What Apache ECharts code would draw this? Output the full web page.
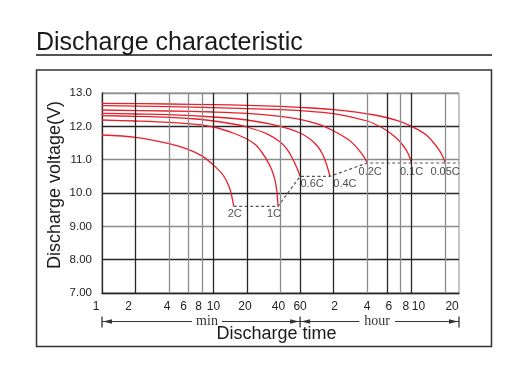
<!DOCTYPE html>
<html><head><meta charset="utf-8">
<script src="https://cdn.jsdelivr.net/npm/echarts@6/dist/echarts.min.js"></script>
<style>html,body{margin:0;padding:0;background:#fff}#c{width:516px;height:375px}</style>
</head><body><div id="c"></div>
<script>
// ---- data (time in minutes, voltage in V) ----
const rateNames = ['2C','1C','0.6C','0.4C','0.2C','0.1C','0.05C'];
const curve2C = [[1,11.74],[2,11.67],[4,11.48],[6,11.3],[8,11.1],[10,10.84],[12.2,10.54],[14,10.14],[15,9.72],[15.2,9.6]];
const curve1C = [[1,12.19],[2,12.16],[4,12.12],[7,12.06],[10,11.98],[15,11.8],[20,11.62],[24,11.44],[27.5,11.2],[31,10.92],[33.5,10.68],[35.6,10.4],[37.1,10.05],[38,9.6]];
const curve06C = [[1,12.32],[2,12.3],[4,12.27],[7,12.22],[10,12.16],[15,12.07],[20,11.98],[30,11.78],[40,11.52],[46,11.3],[51,11.05],[55,10.82],[58,10.64],[60,10.5]];
const curve04C = [[1,12.39],[2,12.37],[4,12.35],[10,12.28],[20,12.19],[40,12.0],[60,11.8],[75,11.6],[87,11.38],[96,11.15],[102,10.92],[107,10.7],[111,10.5]];
const curve02C = [[1,12.49],[4,12.46],[10,12.43],[20,12.39],[40,12.3],[60,12.21],[90,12.05],[120,11.86],[160,11.62],[186,11.43],[210,11.22],[229,11.04],[240,10.9]];
const curve01C = [[1,12.62],[4,12.59],[10,12.56],[20,12.53],[40,12.5],[60,12.47],[120,12.38],[240,12.16],[330,11.95],[420,11.7],[500,11.44],[560,11.18],[600,10.9]];
const curve005C = [[1,12.69],[4,12.67],[10,12.65],[20,12.63],[40,12.6],[60,12.57],[120,12.5],[280,12.34],[450,12.17],[600,12.0],[800,11.76],[950,11.5],[1080,11.25],[1160,11.05],[1200,10.9]];
const endTimes = [15.2,38,60,111,240,600,1200];
const endVolts = [9.6,9.6,10.5,10.5,10.9,10.9,10.9];
const cutoffLine = [[15.2,9.6],[38,9.6],[60,10.5],[111,10.5],[240,10.9],[1600,10.9]];
const xTickValues = [1,2,4,6,8,10,20,40,60,120,240,360,480,600,1200];
const xTickLabels = ['1','2','4','6','8','10','20','40','60','2','4','6','8','10','20'];
const yTickLabels = ['7.00','8.00','9.00','10.0','11.0','12.0','13.0'];
const xMin = 1, xMax = 1600, yMin = 7, yMax = 13;

// ---- styles ----
const FONT = '"Liberation Sans", Arial, sans-serif';
const RED = '#e8202a';
const DARK = '#262626', GREY = '#8c8c8c';
const darkGrid = [1,2,10,20,60,120,360,600];
const labelOffsets = [[1,8],[-4,8],[12,8],[15,8],[3,9],[0,9],[0,9]];
const tickLabelShift = [-6,-7,-2,-5,-4,0,-2,-2,0,1,0,2,5,7,7];

const curves = [curve2C, curve1C, curve06C, curve04C, curve02C, curve01C, curve005C];

const chart = echarts.init(document.getElementById('c'), null, {renderer:'canvas'});

const series = [];
series.push({
  type:'line', data:[], z:1, silent:true,
  markLine:{
    silent:true, symbol:'none', animation:false, label:{show:false},
    data: xTickValues.slice(1).map(v=>({
      xAxis:v,
      lineStyle:{color: darkGrid.includes(v)?DARK:GREY, width:1.3, type:'solid'}
    }))
  }
});
curves.forEach((c,i)=>{
  series.push({
    name: rateNames[i], type:'line', data:c, showSymbol:false, symbol:'none',
    smooth:0.3, z:3,
    lineStyle:{color:RED, width:1.3}
  });
});
series.push({
  type:'line', data:cutoffLine, showSymbol:false, symbol:'none', z:2,
  lineStyle:{color:'#555', width:1.2, type:[3,2.5]}
});
series.push({
  type:'scatter', symbolSize:0, z:5, silent:true,
  data: rateNames.map((n,i)=>({
    value:[endTimes[i], endVolts[i]], name:n,
    label:{show:true, position:'inside', offset:labelOffsets[i], formatter:n,
           color:'#222', fontSize:11, fontFamily:FONT}
  }))
});

const option = {
  animation:false,
  backgroundColor:'#fff',
  grid:{left:102, right:57, top:93, bottom:82, show:true, borderColor:GREY, borderWidth:1},
  xAxis:{
    type:'log', logBase:10, min:xMin, max:xMax,
    axisLabel:{show:false}, axisTick:{show:false},
    splitLine:{show:false}, minorSplitLine:{show:false},
    axisLine:{show:true, lineStyle:{color:DARK, width:1.3}}
  },
  yAxis:{
    type:'value', min:yMin, max:yMax, interval:1,
    axisTick:{show:false},
    axisLine:{show:true, lineStyle:{color:DARK, width:1.3}},
    axisLabel:{margin:10, color:'#222', fontSize:11.5, fontFamily:FONT,
               formatter:(v)=>yTickLabels[Math.round(v-yMin)]},
    splitLine:{show:true, lineStyle:{color:[GREY, DARK], width:1.3}}
  },
  series
};
chart.setOption(option);

// ---- annotations placed through the axis scales ----
const px = v => chart.convertToPixel({xAxisIndex:0}, v);
const py = v => chart.convertToPixel({yAxisIndex:0}, v);
const x0 = px(xMin), x1 = px(60), x2 = px(xMax);
const yb = py(yMin);
const ay = yb + 28.5;
const lineC = '#333';
function arrow(x, dir){ // dir -1 left, +1 right
  return {type:'polygon', shape:{points:[[x,ay],[x-dir*9,ay-2.3],[x-dir*9,ay+2.3]]},
          style:{fill:lineC}, z:10};
}
function bar(x){
  return {type:'line', shape:{x1:x,y1:ay-5,x2:x,y2:ay+6}, style:{stroke:lineC, lineWidth:1.3}, z:10};
}
const tickTexts = xTickValues.map((v,i)=>({
  type:'text', style:{x:px(v)+tickLabelShift[i], y:yb+13.5, text:xTickLabels[i], font:'12px '+FONT,
    fill:'#222', align:'center', verticalAlign:'middle'}, z:10
}));
const graphic = [
  {type:'text', style:{x:36, y:43, text:'Discharge characteristic', font:'25px '+FONT,
     fill:'#1a1a1a', verticalAlign:'middle', align:'left'}, z:10},
  {type:'line', shape:{x1:36,y1:55,x2:492,y2:55}, style:{stroke:'#1a1a1a', lineWidth:1.5}, z:10},
  {type:'rect', shape:{x:36.5,y:70,width:455,height:276.5}, style:{fill:'none', stroke:'#333', lineWidth:1.5}, z:10},
  {type:'text', rotation:Math.PI/2, x:55, y:185,
     style:{x:0,y:0,text:'Discharge voltage(V)', font:'18px '+FONT, fill:'#1a1a1a',
     align:'center', verticalAlign:'middle'}, z:10},
  {type:'line', shape:{x1:x0,y1:ay,x2:x2,y2:ay}, style:{stroke:lineC, lineWidth:1}, z:10},
  bar(x0), bar(x1), bar(x2),
  arrow(x0+1,-1), arrow(x1-1,1), arrow(x1+1,-1), arrow(x2-1,1),
  {type:'text', style:{x:x0+0.53*(x1-x0), y:ay, text:'min', font:'14px "Liberation Serif", serif',
     fill:'#333', align:'center', verticalAlign:'middle', backgroundColor:'#fff', padding:[0,4]}, z:11},
  {type:'text', style:{x:x1+0.485*(x2-x1), y:ay, text:'hour', font:'14px "Liberation Serif", serif',
     fill:'#333', align:'center', verticalAlign:'middle', backgroundColor:'#fff', padding:[0,5]}, z:11},
  {type:'text', style:{x:(x0+x2)/2-4, y:ay+12.5, text:'Discharge time', font:'18px '+FONT,
     fill:'#1a1a1a', align:'center', verticalAlign:'middle'}, z:12}
].concat(tickTexts);
chart.setOption({graphic});
</script>
</body></html>
